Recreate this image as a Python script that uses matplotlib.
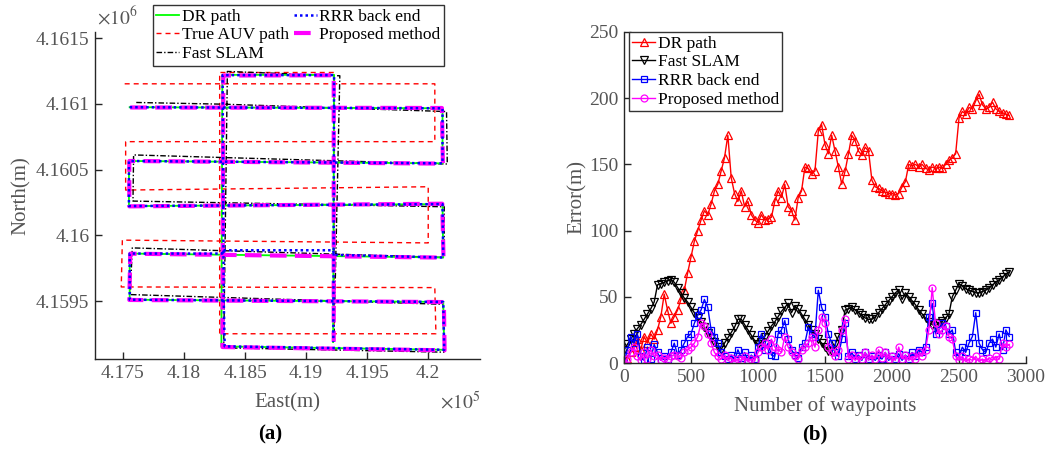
import numpy as np
import matplotlib
matplotlib.use("Agg")
import matplotlib.pyplot as plt

plt.rcParams['font.family'] = ['Liberation Serif', 'DejaVu Serif']
plt.rcParams['mathtext.fontset'] = 'stix'

# ---------------- (a) trajectories (East, North in metres) ----------------
dr_east = [417555, 420117, 420117, 417549, 417549, 420117, 420123, 417555, 417555,
           420123, 420131, 418306, 418314, 419229, 419221]
dr_north = [4160974, 4160966, 4160547, 4160565, 4160222, 4160237, 4159831, 4159861,
            4159510, 4159493, 4159129, 4159155, 4161220, 4161220, 4159188]

true_east = [417514, 420054, 420054, 417522, 417522, 420000, 420000, 417495, 417486,
             420054, 420063, 418292, 418292, 419229, 419229]
true_north = [4161152, 4161152, 4160712, 4160712, 4160344, 4160369, 4159942, 4159963,
              4159607, 4159602, 4159251, 4159251, 4161238, 4161238, 4159251]

fs_east = [417609, 418320, 420150, 420156, 417587, 417582, 420131, 420131, 417576,
           417560, 420123, 420128, 418325, 418355, 419276, 419229]
fs_north = [4161010, 4160997, 4160941, 4160542, 4160611, 4160260, 4160217, 4159831,
            4159904, 4159549, 4159475, 4159111, 4159144, 4161246, 4161213, 4159251]

rrr_east = [417555, 420117, 420117, 417549, 417549, 420117, 420123, 419229, 419221,
            418320, 418314, 417555, 417555, 420123, 420131, 418333, 418325, 418316,
            419229, 419223]
rrr_north = [4160974, 4160966, 4160547, 4160565, 4160222, 4160237, 4159831, 4159851,
             4159886, 4159886, 4159861, 4159861, 4159510, 4159493, 4159129, 4159155,
             4159510, 4161218, 4161218, 4159188]

pm_east = [417560, 420112, 420120, 417552, 417552, 420115, 420125, 417560, 417552,
           420128, 420134, 418315, 418322, 419226, 419226]
pm_north = [4160972, 4160968, 4160545, 4160565, 4160220, 4160240, 4159830, 4159860,
            4159508, 4159492, 4159125, 4159150, 4161215, 4161217, 4159190]

a_xticks = [417500, 418000, 418500, 419000, 419500, 420000]
a_xticklabels = ['4.175', '4.18', '4.185', '4.19', '4.195', '4.2']
a_yticks = [4159500, 4160000, 4160500, 4161000, 4161500]
a_yticklabels = ['4.1595', '4.16', '4.1605', '4.161', '4.1615']

# ---------------- (b) errors vs waypoints ----------------
waypoints = np.arange(0, 2876, 25)

err_dr = [0, 3, 8, 12, 18, 10, 20, 15, 22, 18,
          25, 35, 52, 40, 30, 35, 40, 48, 55, 68,
          80, 92, 100, 108, 115, 112, 120, 130, 135, 145,
          155, 172, 140, 128, 122, 130, 118, 122, 112, 108,
          106, 112, 108, 109, 110, 122, 130, 125, 135, 118,
          115, 108, 125, 130, 148, 147, 143, 145, 175, 180,
          165, 158, 172, 160, 148, 135, 145, 158, 172, 168,
          160, 157, 163, 160, 138, 133, 132, 130, 129, 128,
          128, 127, 128, 133, 137, 150, 149, 150, 148, 150,
          147, 146, 148, 147, 148, 147, 150, 153, 155, 158,
          185, 190, 188, 193, 192, 198, 203, 195, 192, 193,
          197, 192, 190, 189, 188, 187]

err_fs = [10, 14, 18, 22, 26, 29, 33, 37, 41, 46,
          59, 60, 61, 62, 63, 61, 57, 53, 49, 46,
          42, 38, 34, 31, 27, 23, 19, 16, 12, 10,
          15, 19, 23, 27, 33, 33, 29, 25, 21, 17,
          14, 16, 20, 24, 28, 31, 35, 39, 42, 45,
          38, 43, 41, 37, 33, 29, 25, 22, 18, 15,
          12, 9, 8, 14, 20, 25, 40, 41, 42, 40,
          38, 36, 34, 33, 33, 35, 38, 41, 44, 47,
          50, 53, 55, 48, 53, 50, 47, 44, 40, 37,
          34, 31, 29, 28, 30, 32, 34, 37, 50, 55,
          60, 58, 56, 55, 54, 53, 53, 54, 55, 57,
          59, 61, 63, 65, 67, 69]

err_rrr = [0, 10, 20, 15, 22, 5, 2, 12, 3, 14,
           8, 2, 5, 3, 8, 15, 6, 10, 15, 20,
           22, 30, 36, 40, 48, 42, 25, 20, 15, 8,
           5, 3, 6, 2, 10, 4, 8, 2, 6, 3,
           12, 22, 10, 15, 6, 5, 22, 25, 32, 18,
           10, 6, 4, 12, 15, 27, 22, 20, 55, 42,
           35, 22, 15, 8, 5, 18, 30, 5, 8, 3,
           6, 2, 8, 3, 5, 2, 6, 3, 8, 2,
           5, 3, 7, 2, 6, 3, 8, 5, 10, 8,
           12, 35, 45, 22, 25, 30, 28, 22, 25, 8,
           5, 12, 8, 15, 20, 38, 15, 10, 8, 15,
           18, 12, 22, 10, 25, 20]

err_pm = [0, 3, 8, 12, 5, 2, 8, 3, 10, 5,
          6, 2, 4, 3, 5, 6, 5, 4, 8, 10,
          12, 15, 20, 30, 28, 22, 15, 8, 5, 3,
          6, 2, 4, 1, 3, 2, 5, 1, 3, 2,
          8, 12, 15, 10, 18, 12, 10, 8, 20, 12,
          8, 5, 3, 10, 12, 15, 20, 12, 25, 35,
          30, 12, 8, 5, 10, 25, 33, 3, 6, 2,
          5, 3, 8, 2, 6, 3, 10, 4, 8, 3,
          5, 2, 12, 3, 6, 2, 5, 3, 8, 5,
          10, 25, 57, 30, 22, 25, 28, 20, 18, 5,
          2, 5, 1, 3, 2, 5, 1, 3, 1, 4,
          2, 5, 3, 15, 12, 14]

tick_color = '#555555'

fig = plt.figure(figsize=(10.63, 4.5), dpi=100)

# ---------- left panel ----------
axA = fig.add_axes([95/1063, 1-359/450, 385/1063, 327/450])
l_true, = axA.plot(true_east, true_north, color='#ff0000', lw=1.0,
                   dashes=(3.6, 2.9), label='True AUV path')
l_fs, = axA.plot(fs_east, fs_north, color='black', lw=1.0,
                 dashes=(4, 1.5, 1, 1.5), label='Fast SLAM')
l_dr, = axA.plot(dr_east, dr_north, color='#00ff00', lw=1.3, label='DR path')
l_pm, = axA.plot(pm_east, pm_north, color='#ff00ff', lw=3.0,
                 dashes=(4, 2), label='Proposed method')
l_rrr, = axA.plot(rrr_east, rrr_north, color='#0000ff', lw=1.8,
                  dashes=(1, 1.2), label='RRR back end')
axA.set_xlim(417271, 420424)
axA.set_ylim(4159059, 4161546)
axA.set_xticks(a_xticks)
axA.set_xticklabels(a_xticklabels)
axA.set_yticks(a_yticks)
axA.set_yticklabels(a_yticklabels)
axA.set_xlabel('East(m)', fontsize=15, color=tick_color)
axA.set_ylabel('North(m)', fontsize=15, color=tick_color)
axA.xaxis.set_label_coords(0.499, -0.105)
axA.yaxis.set_label_coords(-0.167, 0.50)
fig.text(97/1063, 1-28/450, r'$\times10^{6}$', fontsize=14, color=tick_color,
         ha='left', va='bottom')
fig.text(440/1063, 1-413/450, r'$\times10^{5}$', fontsize=14, color=tick_color,
         ha='left', va='bottom')
fig.text(270/1063, 1-434/450, '(a)', fontsize=15, fontweight='bold',
         ha='center', va='center')
legA = axA.legend(handles=[l_dr, l_true, l_fs, l_rrr, l_pm], ncol=2,
                  loc='upper left', bbox_to_anchor=(153/1063, 1-5/450),
                  bbox_transform=fig.transFigure, borderaxespad=0,
                  fontsize=12.5, handlelength=1.3, handletextpad=0.15,
                  columnspacing=0.3, labelspacing=0.15, borderpad=0.2,
                  fancybox=False, framealpha=1, edgecolor='#333333')
legA.get_frame().set_linewidth(1.0)

# ---------- right panel ----------
axB = fig.add_axes([624/1063, 1-363/450, 402/1063, 331/450])
axB.plot(waypoints, err_dr, color='#ff0000', lw=1.0, marker='^', ms=6,
         mfc='none', mew=0.9, label='DR path')
axB.plot(waypoints, err_fs, color='black', lw=1.0, marker='v', ms=6,
         mfc='none', mew=0.9, label='Fast SLAM')
axB.plot(waypoints, err_rrr, color='#0000ff', lw=1.0, marker='s', ms=5,
         mfc='none', mew=0.9, label='RRR back end')
axB.plot(waypoints, err_pm, color='#ff00ff', lw=1.0, marker='o', ms=5,
         mfc='none', mew=0.9, label='Proposed method')
axB.set_xlim(0, 3000)
axB.set_ylim(0, 250)
axB.set_xticks(range(0, 3001, 500))
axB.set_yticks(range(0, 251, 50))
axB.set_xlabel('Number of waypoints', fontsize=15, color=tick_color)
axB.set_ylabel('Error(m)', fontsize=15, color=tick_color)
axB.xaxis.set_label_coords(0.50, -0.10)
axB.yaxis.set_label_coords(-0.092, 0.50)
fig.text(815/1063, 1-434/450, '(b)', fontsize=15, fontweight='bold',
         ha='center', va='center')
legB = axB.legend(loc='upper left', bbox_to_anchor=(629/1063, 1-32/450),
                  bbox_transform=fig.transFigure, borderaxespad=0,
                  fontsize=12.5, handlelength=1.3, handletextpad=0.15,
                  labelspacing=0.15, borderpad=0.2,
                  fancybox=False, framealpha=1, edgecolor='#333333')
legB.get_frame().set_linewidth(1.0)

for ax in (axA, axB):
    ax.spines['top'].set_visible(False)
    ax.spines['right'].set_visible(False)
    for s in ('left', 'bottom'):
        ax.spines[s].set_color('#262626')
        ax.spines[s].set_linewidth(1.0)
    ax.tick_params(direction='in', length=5, width=1.0, colors='#262626',
                   labelcolor=tick_color, labelsize=14, pad=4)

fig.savefig('out.png', dpi=100)
